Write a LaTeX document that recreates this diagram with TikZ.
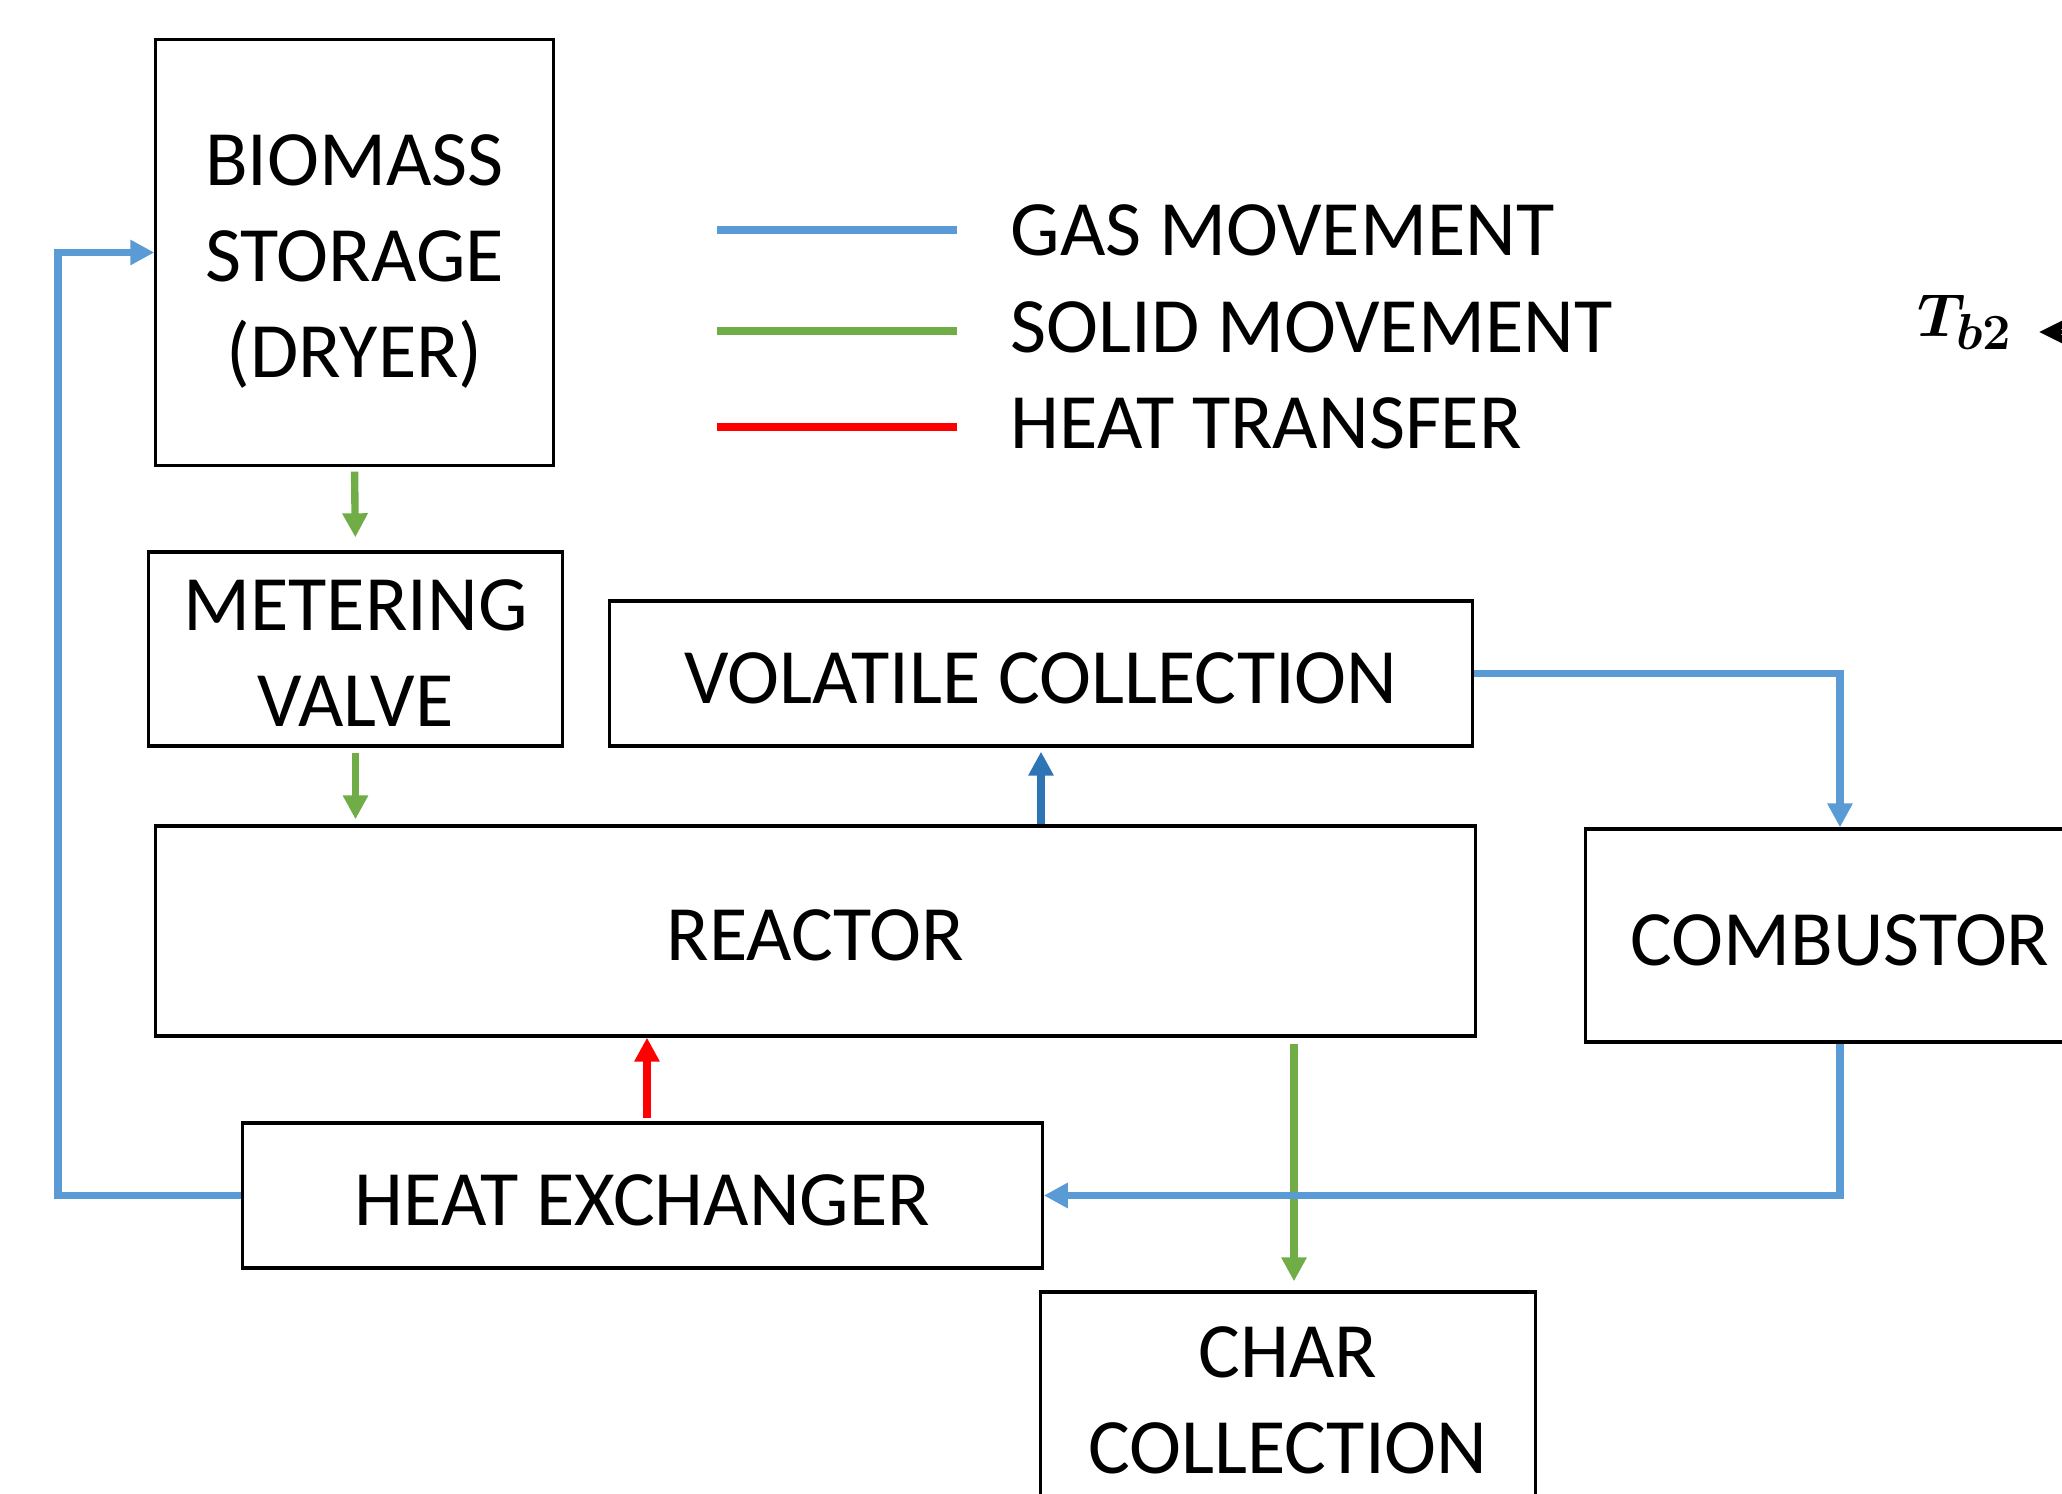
\documentclass[tikz,border=0pt]{standalone}
\usepackage{fontspec}
\setmainfont{Carlito}
\usepackage{tikz}
\usetikzlibrary{arrows.meta,positioning,calc}
\definecolor{gasblue}{HTML}{5B9BD5}
\definecolor{volblue}{HTML}{2E75B6}
\definecolor{solidgreen}{HTML}{70AD47}
\definecolor{heatred}{HTML}{FF0000}
\newcommand{\tline}[1][17pt]{\rule{0pt}{#1}}

\begin{document}
\begin{tikzpicture}[x=0.01cm,y=-0.01cm,>={Triangle[length=0.24cm,width=0.24cm]},
    box/.style={draw,line width=0.9pt,inner sep=0pt,align=center,font=\fontsize{22.3}{27.3}\selectfont},
    legtext/.style={inner sep=0pt,anchor=west,font=\fontsize{22.3}{27.3}\selectfont},
    gas/.style={gasblue,line width=2.1pt},
    solid/.style={solidgreen,line width=2.1pt},
    heat/.style={heatred,line width=2.1pt}]
    \useasboundingbox (0,0) rectangle (2062,1494);
    \clip (0,0) rectangle (2062,1494);

    % Units
    \node[box,minimum width=3.97cm,minimum height=4.25cm] (bio) at (354.5,252.5) {\tline[19.5pt]BIOMASS\\STORAGE\\(DRYER)};
    \node[box,minimum width=4.13cm,minimum height=1.94cm] (meter) at (355.5,649) {\tline METERING\\VALVE};
    \node[box,minimum width=8.62cm,minimum height=1.45cm] (vol) at (1041,673.5) {\tline VOLATILE COLLECTION};
    \node[box,minimum width=13.19cm,minimum height=2.10cm] (reac) at (815.5,931) {\tline REACTOR};
    \node[box,minimum width=5.08cm,minimum height=2.13cm] (comb) at (1840,935.5) {\tline COMBUSTOR};
    \node[box,minimum width=7.99cm,minimum height=1.45cm] (hx) at (642.5,1195.5) {\tline HEAT EXCHANGER};
    \node[box,minimum width=4.94cm,minimum height=2.16cm] (char) at (1288,1400) {CHAR\\COLLECTION};

    % Legend
    \draw[gas] (717,230) -- (957,230);
    \draw[solid] (717,331) -- (957,331);
    \draw[heat] (717,427) -- (957,427);
    \node[legtext] (gastxt) at (1010,230) {GAS MOVEMENT};
    \node[legtext] (solidtxt) at (1010,327) {SOLID MOVEMENT};
    \node[legtext] (heattxt) at (1010,423) {HEAT TRANSFER};

    % Solid flow
    \draw[solid,->,shorten <=0.05cm,shorten >=0.13cm] (bio.south) -- (meter.north);
    \draw[solid,->,shorten <=0.05cm,shorten >=0.05cm] (meter.south) -- (meter.south |- reac.north);
    \coordinate (charin) at ($(char.north)+(6,0)$);
    \draw[solid,->,shorten <=0.06cm,shorten >=0.09cm] (charin |- reac.south) -- (charin);

    % Gas flow
    \draw[volblue,line width=2.1pt,->,shorten >=0.04cm] (vol.south |- reac.north) -- (vol.south);
    \draw[gas,->] (vol.east) -| (comb.north);
    \draw[gas,->] (comb.south) |- (hx.east);
    \coordinate (ret) at (58,0);
    \draw[gas,->] (hx.west) -- (hx.west -| ret) |- (bio.west);

    % Heat
    \coordinate (hxout) at ($(hx.north)+(4.5,0)$);
    \draw[heat,->,shorten <=0.03cm] (hxout) -- (hxout |- reac.south);

    % Cropped label at the edge
    \node[inner sep=0pt,font=\fontsize{19}{21}\selectfont\boldmath] (tb2) at (1965,322) {$T_{b2}$};
    \coordinate (tbsrc) at (2150,332);
    \draw[-{Stealth[length=0.3cm,width=0.3cm]},line width=1pt,shorten >=0.26cm] (tbsrc) -- (tb2.east |- tbsrc);
\end{tikzpicture}
\end{document}
